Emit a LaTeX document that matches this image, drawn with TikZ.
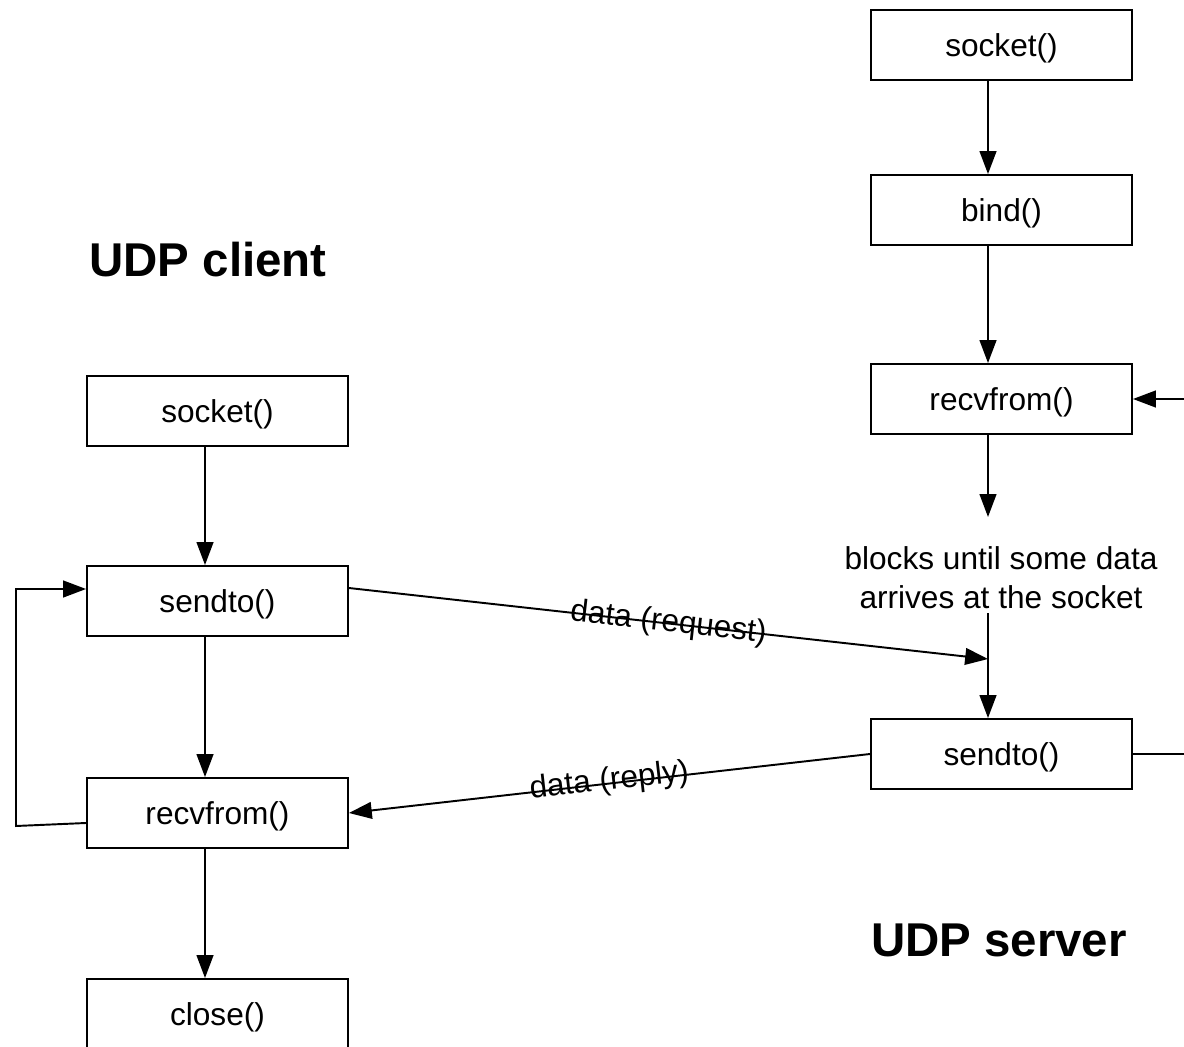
\documentclass[tikz,border=0pt]{standalone}
\usepackage{fontspec}
\setmainfont{Liberation Sans}
\usetikzlibrary{arrows.meta}
\begin{document}
\begin{tikzpicture}[x=0.02cm,y=-0.02cm,
		call/.style={draw,line width=1.1pt,minimum width=5.22cm,minimum height=1.4cm,inner sep=0pt,text height=14.5pt,text depth=1pt,font=\fontsize{18}{22}\selectfont},
		flow/.style={line width=1.1pt,-{Triangle[length=13pt,width=9.5pt]}},
		title/.style={font=\fontsize{27}{32}\selectfont\bfseries},
		lbl/.style={font=\fontsize{18}{22}\selectfont}]
	\useasboundingbox (0,0) rectangle (1184,1047);
	\clip (0,0) rectangle (1184,1047);
	% client side
	\node[title] (ctitle) at (208,260) {UDP client};
	\node[call] (csock) at (217.5,411) {socket()};
	\node[call] (csend) at (217.5,601) {sendto()};
	\node[call] (crecv) at (217.5,813) {recvfrom()};
	\node[call] (cclose) at (217.5,1014) {close()};
	\foreach \a/\b in {csock/csend,csend/crecv,crecv/cclose}
		\draw[flow] ([xshift=-0.25cm]\a.south) -- ([xshift=-0.25cm]\b.north);
	\draw[flow] ([yshift=-0.2cm]crecv.west) -- (16,826) -- (16,589) -- ([yshift=0.24cm]csend.west);
	% server side
	\node[title] (stitle) at (999,940) {UDP server};
	\node[call] (ssock) at (1001.5,45) {socket()};
	\node[call] (sbind) at (1001.5,210) {bind()};
	\node[call] (srecv) at (1001.5,399) {recvfrom()};
	\node[lbl,align=center] (wait) at (1001,578) {blocks until some data\\arrives at the socket};
	\node[call] (ssend) at (1001.5,754) {sendto()};
	\foreach \a/\b in {ssock/sbind,sbind/srecv}
		\draw[flow] ([xshift=-0.27cm]\a.south) -- ([xshift=-0.27cm]\b.north);
	\coordinate (w1) at (988,517);
	\coordinate (w2) at (988,613);
	\coordinate (rq) at (988,659);
	\draw[flow] ([xshift=-0.27cm]srecv.south) -- (w1);
	\draw[flow] (w2) -- ([xshift=-0.27cm]ssend.north);
	\draw[flow] (ssend.east) -- ++(70,0) |- (srecv.east);
	% datagrams
	\draw[flow] ([yshift=0.26cm]csend.east) -- node[lbl,sloped] {data (request)} (rq);
	\draw[flow] (ssend.west) -- node[lbl,sloped,yshift=1pt] {data (reply)} (crecv.east);
\end{tikzpicture}
\end{document}
